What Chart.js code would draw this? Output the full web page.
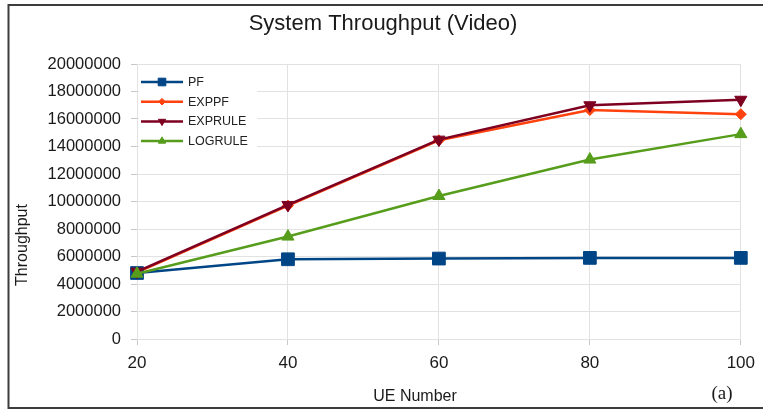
<!DOCTYPE html>
<html>
<head>
<meta charset="utf-8">
<script src="https://cdn.jsdelivr.net/npm/chart.js@4/dist/chart.umd.min.js"></script>
<style>
  html, body { margin: 0; padding: 0; background: #fff; }
  #wrap { width: 763px; height: 410px; position: relative; }
</style>
</head>
<body>
<div id="wrap"><canvas id="c" width="763" height="410"></canvas></div>
<script>
// UE count on the x axis, throughput per scheduler on the y axis
const ueNumbers = ['20', '40', '60', '80', '100'];
const pf      = [4800000, 5800000, 5850000, 5900000, 5900000];
const exppf   = [4850000, 9700000, 14450000, 16650000, 16350000];
const exprule = [4900000, 9750000, 14500000, 17000000, 17400000];
const logrule = [4750000, 7450000, 10400000, 13050000, 14900000];
const yMax = 20000000;
const yStep = 2000000;

const titleText = 'System Throughput (Video)';
const xTitle = 'UE Number';
const yTitle = 'Throughput';
const panelTag = '(a)';

const FONT = '"Liberation Sans", Arial, sans-serif';

const series = [
  { label: 'PF',      data: pf,      color: '#004586', style: 'rect',     radius: 9,   rotation: 0,   order: 2 },
  { label: 'EXPPF',   data: exppf,   color: '#ff420e', style: 'rectRot',  radius: 5.5, rotation: 0,   order: 3 },
  { label: 'EXPRULE', data: exprule, color: '#7e0021', style: 'triangle', radius: 7,   rotation: 180, order: 1 },
  { label: 'LOGRULE', data: logrule, color: '#579d1c', style: 'triangle', radius: 7,   rotation: 0,   order: 0 }
];

// Frame, title, axis captions and the inset legend
const decorations = {
  id: 'decorations',
  beforeDraw(chart) {
    const ctx = chart.ctx;
    ctx.save();
    ctx.fillStyle = '#ffffff';
    ctx.fillRect(0, 0, chart.width, chart.height);
    ctx.restore();
  },
  afterDraw(chart) {
    const ctx = chart.ctx;
    const area = chart.chartArea;
    ctx.save();

    // outer frame (left, top, bottom)
    ctx.strokeStyle = '#3c3c3c';
    ctx.lineWidth = 2;
    ctx.beginPath();
    ctx.moveTo(chart.width + 2, 5);
    ctx.lineTo(8.5, 5);
    ctx.lineTo(8.5, 408);
    ctx.lineTo(chart.width + 2, 408);
    ctx.stroke();

    // title
    ctx.fillStyle = '#1a1a1a';
    ctx.font = '22px ' + FONT;
    ctx.textAlign = 'center';
    ctx.textBaseline = 'middle';
    ctx.fillText(titleText, 383, 24);

    // axis captions
    ctx.font = '16px ' + FONT;
    ctx.fillStyle = '#1a1a1a';
    ctx.fillText(xTitle, 415, 397);
    ctx.save();
    ctx.translate(23, 245);
    ctx.rotate(-Math.PI / 2);
    ctx.fillText(yTitle, 0, 0);
    ctx.restore();

    // panel tag
    ctx.font = '19px "Liberation Serif", "DejaVu Serif", serif';
    ctx.fillText(panelTag, 722, 394);

    // inset legend
    const lx = area.left + 2, ly = area.top + 8;
    ctx.fillStyle = '#ffffff';
    ctx.fillRect(lx, ly, 118, 84);
    series.forEach((s, i) => {
      const y = 82 + i * 19.7;
      ctx.strokeStyle = s.color;
      ctx.lineWidth = 2.5;
      ctx.beginPath();
      ctx.moveTo(141, y);
      ctx.lineTo(183, y);
      ctx.stroke();
      ctx.fillStyle = s.color;
      ctx.strokeStyle = s.color;
      ctx.lineWidth = 1;
      Chart.helpers.drawPoint(ctx, {
        pointStyle: s.style,
        rotation: s.rotation,
        radius: s.radius * 0.6,
        borderWidth: 1
      }, 162, y);
      ctx.fillStyle = '#222';
      ctx.font = '12.5px ' + FONT;
      ctx.textAlign = 'left';
      ctx.textBaseline = 'middle';
      ctx.fillText(s.label, 188, y + 0.5);
    });
    ctx.restore();
  }
};

const datasets = series.map(s => ({
  label: s.label,
  data: s.data,
  borderColor: s.color,
  backgroundColor: s.color,
  borderWidth: 2.5,
  pointStyle: s.style,
  pointRotation: s.rotation,
  pointRadius: s.radius,
  pointHoverRadius: s.radius,
  pointBackgroundColor: s.color,
  pointBorderColor: s.color,
  pointBorderWidth: 1,
  tension: 0,
  fill: false,
  order: s.order
}));

new Chart(document.getElementById('c'), {
  type: 'line',
  data: { labels: ueNumbers, datasets },
  options: {
    responsive: false,
    animation: false,
    devicePixelRatio: 1,
    layout: { padding: { top: 64, right: 22, left: 0, bottom: 0 } },
    plugins: {
      legend: { display: false },
      title: { display: false },
      tooltip: { enabled: false }
    },
    scales: {
      x: {
        offset: false,
        grid: { color: '#e2e2e2', tickLength: 6, tickColor: '#c8c8c8', drawTicks: true },
        border: { color: '#e2e2e2' },
        ticks: { color: '#1a1a1a', font: { family: FONT, size: 17 }, padding: 8, maxRotation: 0 },
        afterFit(scale) { scale.height = 71; }
      },
      y: {
        min: 0,
        max: yMax,
        grid: { color: '#e2e2e2', tickLength: 6, tickColor: '#c8c8c8' },
        border: { color: '#e2e2e2' },
        ticks: {
          stepSize: yStep,
          color: '#1a1a1a',
          font: { family: FONT, size: 16.5 },
          padding: 10,
          callback: v => String(v)
        },
        afterFit(scale) { scale.width = 137; }
      }
    }
  },
  plugins: [decorations]
});
</script>
</body>
</html>
